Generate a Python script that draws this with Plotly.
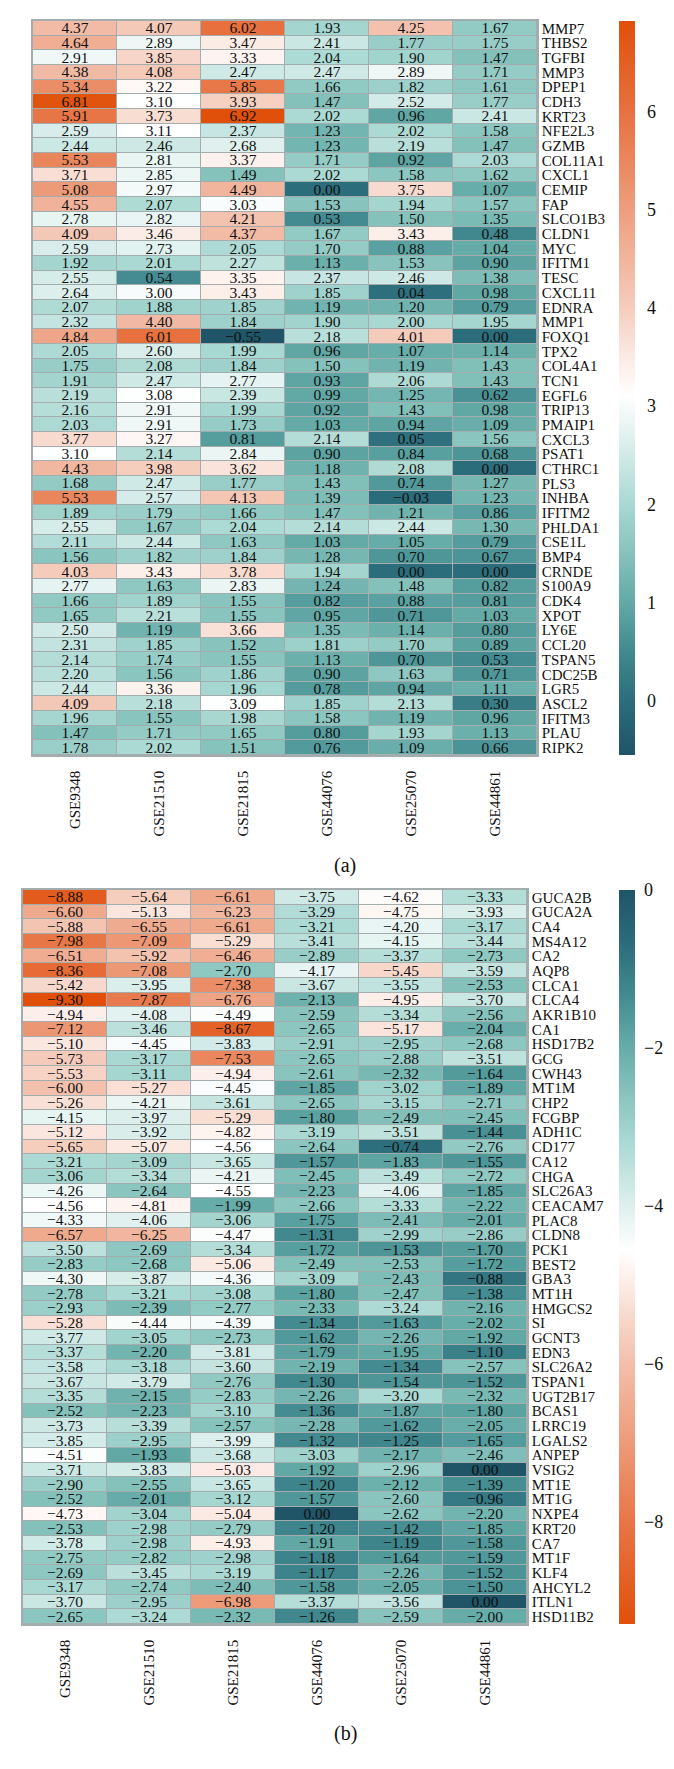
import plotly.graph_objects as go

datasets = ["GSE9348", "GSE21510", "GSE21815", "GSE44076", "GSE25070", "GSE44861"]

genes_up = ["MMP7", "THBS2", "TGFBI", "MMP3", "DPEP1", "CDH3", "KRT23", "NFE2L3", "GZMB", "COL11A1",
            "CXCL1", "CEMIP", "FAP", "SLCO1B3", "CLDN1", "MYC", "IFITM1", "TESC", "CXCL11", "EDNRA",
            "MMP1", "FOXQ1", "TPX2", "COL4A1", "TCN1", "EGFL6", "TRIP13", "PMAIP1", "CXCL3", "PSAT1",
            "CTHRC1", "PLS3", "INHBA", "IFITM2", "PHLDA1", "CSE1L", "BMP4", "CRNDE", "S100A9", "CDK4",
            "XPOT", "LY6E", "CCL20", "TSPAN5", "CDC25B", "LGR5", "ASCL2", "IFITM3", "PLAU", "RIPK2"]

up_GSE9348 = [4.37, 4.64, 2.91, 4.38, 5.34, 6.81, 5.91, 2.59, 2.44, 5.53, 3.71, 5.08, 4.55, 2.78, 4.09, 2.59, 1.92, 2.55, 2.64, 2.07,
              2.32, 4.84, 2.05, 1.75, 1.91, 2.19, 2.16, 2.03, 3.77, 3.10, 4.43, 1.68, 5.53, 1.89, 2.55, 2.11, 1.56, 4.03, 2.77, 1.66,
              1.65, 2.50, 2.31, 2.14, 2.20, 2.44, 4.09, 1.96, 1.47, 1.78]
up_GSE21510 = [4.07, 2.89, 3.85, 4.08, 3.22, 3.10, 3.73, 3.11, 2.46, 2.81, 2.85, 2.97, 2.07, 2.82, 3.46, 2.73, 2.01, 0.54, 3.00, 1.88,
               4.40, 6.01, 2.60, 2.08, 2.47, 3.08, 2.91, 2.91, 3.27, 2.14, 3.98, 2.47, 2.57, 1.79, 1.67, 2.44, 1.82, 3.43, 1.63, 1.89,
               2.21, 1.19, 1.85, 1.74, 1.56, 3.36, 2.18, 1.55, 1.71, 2.02]
up_GSE21815 = [6.02, 3.47, 3.33, 2.47, 5.85, 3.93, 6.92, 2.37, 2.68, 3.37, 1.49, 4.49, 3.03, 4.21, 4.37, 2.05, 2.27, 3.35, 3.43, 1.85,
               1.84, -0.55, 1.99, 1.84, 2.77, 2.39, 1.99, 1.73, 0.81, 2.84, 3.62, 1.77, 4.13, 1.66, 2.04, 1.63, 1.84, 3.78, 2.83, 1.55,
               1.55, 3.66, 1.52, 1.55, 1.86, 1.96, 3.09, 1.98, 1.65, 1.51]
up_GSE44076 = [1.93, 2.41, 2.04, 2.47, 1.66, 1.47, 2.02, 1.23, 1.23, 1.71, 2.02, 0.00, 1.53, 0.53, 1.67, 1.70, 1.13, 2.37, 1.85, 1.19,
               1.90, 2.18, 0.96, 1.50, 0.93, 0.99, 0.92, 1.03, 2.14, 0.90, 1.18, 1.43, 1.39, 1.47, 2.14, 1.03, 1.28, 1.94, 1.24, 0.82,
               0.95, 1.35, 1.81, 1.13, 0.90, 0.78, 1.85, 1.58, 0.80, 0.76]
up_GSE25070 = [4.25, 1.77, 1.90, 2.89, 1.82, 2.52, 0.96, 2.02, 2.19, 0.92, 1.58, 3.75, 1.94, 1.50, 3.43, 0.88, 1.53, 2.46, 0.04, 1.20,
               2.00, 4.01, 1.07, 1.19, 2.06, 1.25, 1.43, 0.94, 0.05, 0.84, 2.08, 0.74, -0.03, 1.21, 2.44, 1.05, 0.70, 0.00, 1.48, 0.88,
               0.71, 1.14, 1.70, 0.70, 1.63, 0.94, 2.13, 1.19, 1.93, 1.09]
up_GSE44861 = [1.67, 1.75, 1.47, 1.71, 1.61, 1.77, 2.41, 1.58, 1.47, 2.03, 1.62, 1.07, 1.57, 1.35, 0.48, 1.04, 0.90, 1.38, 0.98, 0.79,
               1.95, 0.00, 1.14, 1.43, 1.43, 0.62, 0.98, 1.09, 1.56, 0.68, 0.00, 1.27, 1.23, 0.86, 1.30, 0.79, 0.67, 0.00, 0.82, 0.81,
               1.03, 0.80, 0.89, 0.53, 0.71, 1.11, 0.30, 0.96, 1.13, 0.66]

genes_down = ["GUCA2B", "GUCA2A", "CA4", "MS4A12", "CA2", "AQP8", "CLCA1", "CLCA4", "AKR1B10", "CA1",
              "HSD17B2", "GCG", "CWH43", "MT1M", "CHP2", "FCGBP", "ADH1C", "CD177", "CA12", "CHGA",
              "SLC26A3", "CEACAM7", "PLAC8", "CLDN8", "PCK1", "BEST2", "GBA3", "MT1H", "HMGCS2", "SI",
              "GCNT3", "EDN3", "SLC26A2", "TSPAN1", "UGT2B17", "BCAS1", "LRRC19", "LGALS2", "ANPEP", "VSIG2",
              "MT1E", "MT1G", "NXPE4", "KRT20", "CA7", "MT1F", "KLF4", "AHCYL2", "ITLN1", "HSD11B2"]

down_GSE9348 = [-8.88, -6.60, -5.88, -7.98, -6.51, -8.36, -5.42, -9.30, -4.94, -7.12, -5.10, -5.73, -5.53, -6.00, -5.26, -4.15, -5.12, -5.65, -3.21, -3.06,
                -4.26, -4.56, -4.33, -6.57, -3.50, -2.83, -4.30, -2.78, -2.93, -5.28, -3.77, -3.37, -3.58, -3.67, -3.35, -2.52, -3.73, -3.85, -4.51, -3.71,
                -2.90, -2.52, -4.73, -2.53, -3.78, -2.75, -2.69, -3.17, -3.70, -2.65]
down_GSE21510 = [-5.64, -5.13, -6.55, -7.09, -5.92, -7.08, -3.95, -7.87, -4.08, -3.46, -4.45, -3.17, -3.11, -5.27, -4.21, -3.97, -3.92, -5.07, -3.09, -3.34,
                 -2.64, -4.81, -4.06, -6.25, -2.69, -2.68, -3.87, -3.21, -2.39, -4.44, -3.05, -2.20, -3.18, -3.79, -2.15, -2.23, -3.39, -2.95, -1.93, -3.83,
                 -2.55, -2.01, -3.04, -2.98, -2.98, -2.82, -3.45, -2.74, -2.95, -3.24]
down_GSE21815 = [-6.61, -6.23, -6.61, -5.29, -6.46, -2.70, -7.38, -6.76, -4.49, -8.67, -3.83, -7.53, -4.94, -4.45, -3.61, -5.29, -4.82, -4.56, -3.65, -4.21,
                 -4.55, -1.99, -3.06, -4.47, -3.34, -5.06, -4.36, -3.08, -2.77, -4.39, -2.73, -3.81, -3.60, -2.76, -2.83, -3.10, -2.57, -3.99, -3.68, -5.03,
                 -3.65, -3.12, -5.04, -2.79, -4.93, -2.98, -3.19, -2.40, -6.98, -2.32]
down_GSE44076 = [-3.75, -3.29, -3.21, -3.41, -2.89, -4.17, -3.67, -2.13, -2.59, -2.65, -2.91, -2.65, -2.61, -1.85, -2.65, -1.80, -3.19, -2.64, -1.57, -2.45,
                 -2.23, -2.66, -1.75, -1.31, -1.72, -2.49, -3.09, -1.80, -2.33, -1.34, -1.62, -1.79, -2.19, -1.30, -2.26, -1.36, -2.28, -1.32, -3.03, -1.92,
                 -1.20, -1.57, 0.00, -1.20, -1.91, -1.18, -1.17, -1.58, -3.37, -1.26]
down_GSE25070 = [-4.62, -4.75, -4.20, -4.15, -3.37, -5.45, -3.55, -4.95, -3.34, -5.17, -2.95, -2.88, -2.32, -3.02, -3.15, -2.49, -3.51, -0.74, -1.83, -3.49,
                 -4.06, -3.33, -2.41, -2.99, -1.53, -2.53, -2.43, -2.47, -3.24, -1.63, -2.26, -1.95, -1.34, -1.54, -3.20, -1.87, -1.62, -1.25, -2.17, -2.96,
                 -2.12, -2.60, -2.62, -1.42, -1.19, -1.64, -2.26, -2.05, -3.56, -2.59]
down_GSE44861 = [-3.33, -3.93, -3.17, -3.44, -2.73, -3.59, -2.53, -3.70, -2.56, -2.04, -2.68, -3.51, -1.64, -1.89, -2.71, -2.45, -1.44, -2.76, -1.55, -2.72,
                 -1.85, -2.22, -2.01, -2.86, -1.70, -1.72, -0.88, -1.38, -2.16, -2.02, -1.92, -1.10, -2.57, -1.52, -2.32, -1.80, -2.05, -1.65, -2.46, 0.00,
                 -1.39, -0.96, -2.20, -1.85, -1.58, -1.59, -1.52, -1.50, 0.00, -2.00]

up_ticks = [0, 1, 2, 3, 4, 5, 6]
down_ticks = [-8, -6, -4, -2, 0]

# ---------------------------------------------------------------------------
W, H = 674, 1769
SERIF = "Liberation Serif"
GRID = "#A4ADAD"
INK = "#111111"

up_cols = [up_GSE9348, up_GSE21510, up_GSE21815, up_GSE44076, up_GSE25070, up_GSE44861]
down_cols = [down_GSE9348, down_GSE21510, down_GSE21815, down_GSE44076, down_GSE25070, down_GSE44861]


def to_rows(cols):
    return [[c[i] for c in cols] for i in range(len(cols[0]))]


def fmt(v):
    s = f"{v:.2f}"
    if s == "-0.00":
        s = "0.00"
    return s.replace("-", "\u2212")


z_up = to_rows(up_cols)
z_down = to_rows(down_cols)
t_up = [[fmt(v) for v in r] for r in z_up]
t_down = [[fmt(v) for v in r] for r in z_down]

# high (orange) at 1, low (dark teal) at 0
scale_up = [
    [0.0, "#1F5566"], [0.074, "#2C6D7B"], [0.14, "#41898F"], [0.207, "#62A9A6"],
    [0.274, "#86C2BC"], [0.341, "#A9D8D2"], [0.408, "#D1EAE7"], [0.49, "#FFFFFF"],
    [0.542, "#FBEAE4"], [0.609, "#F5CDBD"], [0.663, "#F1B9A3"], [0.743, "#EE9E7D"],
    [0.81, "#EA875E"], [0.877, "#E7713F"], [1.0, "#E0500A"]]
scale_down = [[round(1 - p, 4), c] for p, c in reversed(scale_up)]


def px_x(p):
    return p / W


def px_y(p):
    return 1 - p / H


fig = go.Figure()

fig.add_trace(go.Heatmap(
    z=z_up, x=datasets, y=genes_up, text=t_up, texttemplate="%{text}",
    textfont=dict(family=SERIF, size=15.5, color=INK),
    coloraxis="coloraxis", xgap=1, ygap=1, xaxis="x", yaxis="y", hoverinfo="skip"))

fig.add_trace(go.Heatmap(
    z=z_down, x=datasets, y=genes_down, text=t_down, texttemplate="%{text}",
    textfont=dict(family=SERIF, size=15.5, color=INK),
    coloraxis="coloraxis2", xgap=1, ygap=1, xaxis="x2", yaxis="y2", hoverinfo="skip"))

top_y0, top_y1 = 13, 747
bot_y0, bot_y1 = 882, 1616

axis_common = dict(showgrid=False, zeroline=False, ticks="", showline=True, mirror=True,
                   linecolor=GRID, linewidth=1.5, tickfont=dict(family=SERIF, size=15, color=INK))

fig.update_layout(
    width=W, height=H, margin=dict(l=0, r=0, t=0, b=0),
    paper_bgcolor="white", plot_bgcolor=GRID,
    font=dict(family=SERIF, color=INK),
    xaxis=dict(domain=[px_x(25), px_x(529)], anchor="y", side="bottom", tickangle=-90,
               tickmode="array", tickvals=datasets, ticktext=datasets,
               ticklabelstandoff=8, **axis_common),
    yaxis=dict(domain=[px_y(top_y1), px_y(top_y0)], anchor="x", side="right",
               tickmode="array", tickvals=genes_up, ticktext=genes_up,
               autorange="reversed", ticklabelstandoff=0, **axis_common),
    xaxis2=dict(domain=[px_x(15), px_x(519)], anchor="y2", side="bottom", tickangle=-90,
                tickmode="array", tickvals=datasets, ticktext=datasets,
                ticklabelstandoff=8, **axis_common),
    yaxis2=dict(domain=[px_y(bot_y1), px_y(bot_y0)], anchor="x2", side="right",
                tickmode="array", tickvals=genes_down, ticktext=genes_down,
                autorange="reversed", ticklabelstandoff=0, **axis_common),
    coloraxis=dict(
        colorscale=scale_up, cmin=min(min(c) for c in up_cols), cmax=max(max(c) for c in up_cols),
        colorbar=dict(x=px_x(611), xanchor="left", xpad=0, ypad=0, thickness=16, thicknessmode="pixels",
                      y=px_y(top_y1), yanchor="bottom", len=(top_y1 - top_y0) / H, lenmode="fraction",
                      tickvals=up_ticks, ticktext=[str(v) for v in up_ticks],
                      ticks="outside", ticklen=9, tickcolor="rgba(0,0,0,0)",
                      outlinewidth=0, tickfont=dict(family=SERIF, size=18, color=INK))),
    coloraxis2=dict(
        colorscale=scale_down, cmin=min(min(c) for c in down_cols), cmax=max(max(c) for c in down_cols),
        colorbar=dict(x=px_x(611), xanchor="left", xpad=0, ypad=0, thickness=16, thicknessmode="pixels",
                      y=px_y(bot_y1), yanchor="bottom", len=(bot_y1 - bot_y0) / H, lenmode="fraction",
                      tickvals=down_ticks, ticktext=[str(v).replace("-", "\u2212") for v in down_ticks],
                      ticks="outside", ticklen=6, tickcolor="rgba(0,0,0,0)",
                      outlinewidth=0, tickfont=dict(family=SERIF, size=18, color=INK))),
    annotations=[
        dict(text="(a)", x=0.5, y=px_y(857), xref="paper", yref="paper", showarrow=False,
             font=dict(family=SERIF, size=20, color=INK), xanchor="center", yanchor="middle"),
        dict(text="(b)", x=0.5, y=px_y(1725), xref="paper", yref="paper", showarrow=False,
             font=dict(family=SERIF, size=20, color=INK), xanchor="center", yanchor="middle"),
    ],
)

fig.write_html("out.html")
